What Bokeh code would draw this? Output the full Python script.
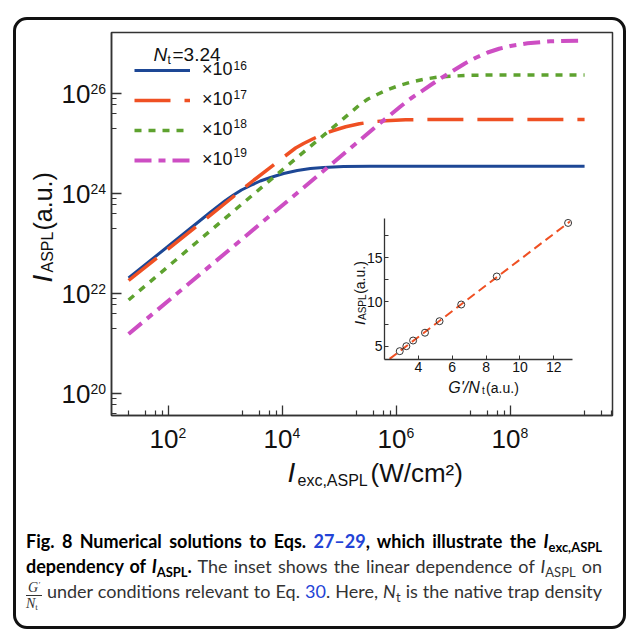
import math
import numpy as np
from bokeh.plotting import figure
from bokeh.models import (Range1d, FixedTicker, CustomJSTickFormatter, Legend, LegendItem,
                          LabelSet, Label, ColumnDataSource, Div)
from bokeh.core.properties import value
from bokeh.embed import file_html
from bokeh.resources import INLINE

FONT = "Liberation Sans"

# ---------------- data (log10 of I_exc,ASPL and I_ASPL) -------------
blue_log_x = [1.30, 2.00, 2.74, 3.00, 3.14, 3.28, 3.44, 3.61, 3.79, 4.02, 4.26, 4.49, 4.72, 5.07, 5.54, 9.30]
blue_log_y = [22.31, 22.95, 23.63, 23.86, 23.97, 24.07, 24.16, 24.25, 24.32, 24.40, 24.46, 24.50, 24.52, 24.54, 24.545, 24.545]

red_log_x = [1.30, 2.50, 3.50, 4.00, 4.23, 4.37, 4.53, 4.70, 4.88, 5.11, 5.35, 5.58, 5.81, 6.16, 6.60, 9.30]
red_log_y = [22.26, 23.35, 24.27, 24.71, 24.91, 25.00, 25.09, 25.18, 25.255, 25.335, 25.395, 25.435, 25.455, 25.475, 25.48, 25.48]

green_log_x = [1.30, 2.50, 3.84, 5.00, 5.36, 5.50, 5.66, 5.83, 6.01, 6.24, 6.48, 6.71, 6.94, 7.29, 7.80, 9.30]
green_log_y = [21.87, 23.03, 24.32, 25.43, 25.78, 25.89, 25.98, 26.07, 26.145, 26.225, 26.285, 26.325, 26.345, 26.365, 26.37, 26.37]

pink_log_x = [1.30, 3.00, 4.79, 5.60, 6.07, 6.25, 6.42, 6.60, 6.80, 7.00, 7.20, 7.40, 7.60, 7.80, 8.00, 8.30, 8.70, 9.30]
pink_log_y = [21.19, 22.81, 24.52, 25.30, 25.74, 25.90, 26.03, 26.17, 26.32, 26.46, 26.60, 26.72, 26.82, 26.895, 26.95, 27.005, 27.045, 27.06]

legend_exponents = [16, 17, 18, 19]

x_tick_exp = [2, 4, 6, 8]
y_tick_exp = [20, 22, 24, 26]
x_minor_ticks = [2e1, 4e1, 6e1, 8e1, 2e3, 4e3, 6e3, 8e3, 2e5, 4e5, 6e5, 8e5, 2e7, 4e7, 6e7, 8e7, 2e9, 4e9, 6e9]
y_minor_ticks = [4e19, 6e19, 8e19, 2e21, 4e21, 6e21, 8e21, 2e23, 4e23, 6e23, 8e23, 2e25, 4e25, 6e25, 8e25]

x_lo, x_hi = 10 ** 1.0, 10 ** 9.79
y_lo, y_hi = 10 ** 19.56, 10 ** 27.22

# inset data
inset_x = [2.90, 3.29, 3.69, 4.39, 5.25, 6.53, 8.63, 12.84]
inset_y = [4.44, 5.00, 5.64, 6.52, 7.82, 9.70, 12.86, 18.90]
fit_x = [2.30, 12.95]
fit_y = [3.57, 19.06]
inset_x_ticks = [4, 6, 8, 10, 12]
inset_y_ticks = [5, 10, 15]
inset_y_minor = [7.5, 12.5, 17.5]
ix_lo, ix_hi = 2.0, 13.1
iy_lo, iy_hi = 3.5, 19.4

BLUE_C = "#1d4795"
RED_C = "#ef5023"
GREEN_C = "#5ea22f"
PINK_C = "#cd4ec3"
AX_C = "#333333"
TXT_C = "#111111"


def lab(fig, x, y, text, size, dx, dy, align="left", italic=False, angle=0.0):
    fig.add_layout(Label(x=x, y=y, text=text, x_offset=dx, y_offset=dy,
                         text_font=FONT, text_font_size=f"{size}px",
                         text_font_style="italic" if italic else "normal",
                         text_align=align, text_baseline="alphabetic",
                         angle=angle, text_color=TXT_C))


def make_overlay(w, h, bl, br, bt, bb, xr, yr, xlog, ylog, left, top):
    """Transparent figure over a figure, whose frame is the whole canvas and whose
    scales continue those of the figure below, so that texts outside its frame can be drawn."""
    def ext(lo, hi, n_lo, n_hi, size, log):
        a, b = (math.log10(lo), math.log10(hi)) if log else (lo, hi)
        per = (b - a) / size
        a2, b2 = a - n_lo * per, b + n_hi * per
        return (10 ** a2, 10 ** b2) if log else (a2, b2)
    ex = ext(xr[0], xr[1], bl, br, w - bl - br, xlog)
    ey = ext(yr[0], yr[1], bb, bt, h - bt - bb, ylog)
    ov = figure(width=w, height=h, x_axis_type="log" if xlog else "linear",
                y_axis_type="log" if ylog else "linear",
                x_range=Range1d(*ex), y_range=Range1d(*ey),
                x_axis_location=None, y_axis_location=None,
                output_backend="svg", toolbar_location=None,
                min_border=0, min_border_left=0, min_border_right=0,
                min_border_top=0, min_border_bottom=0,
                background_fill_color=None, border_fill_color=None, outline_line_color=None)
    ov.grid.visible = False
    ov.styles = {"position": "absolute", "left": f"{left}px", "top": f"{top}px"}
    return ov


# ---------------- main figure -------------
MW, MH, MBL, MBR, MBT, MBB = 613, 520, 103, 9, 24, 113
p = figure(width=MW, height=MH, x_axis_type="log", y_axis_type="log",
           x_range=Range1d(x_lo, x_hi), y_range=Range1d(y_lo, y_hi),
           output_backend="svg", toolbar_location=None,
           min_border_left=MBL, min_border_right=MBR, min_border_top=MBT, min_border_bottom=MBB)
p.grid.visible = False
p.outline_line_color = AX_C
p.outline_line_width = 1.5
p.background_fill_color = "white"
p.border_fill_color = "white"

for ax in (p.xaxis[0], p.yaxis[0]):
    ax.axis_line_color = AX_C
    ax.axis_line_width = 1.5
    ax.major_tick_line_color = AX_C
    ax.minor_tick_line_color = AX_C
    ax.major_tick_line_width = 1.3
    ax.minor_tick_line_width = 1.2
    ax.major_tick_in = 10
    ax.major_tick_out = 0
    ax.minor_tick_in = 5
    ax.minor_tick_out = 0
    ax.formatter = CustomJSTickFormatter(code="return '';")

p.xaxis.ticker = FixedTicker(ticks=[10.0 ** e for e in x_tick_exp], minor_ticks=x_minor_ticks)
p.yaxis.ticker = FixedTicker(ticks=[10.0 ** e for e in y_tick_exp], minor_ticks=y_minor_ticks)


def pw(a):
    return np.power(10.0, np.array(a, dtype=float))


r_blue = p.line(pw(blue_log_x), pw(blue_log_y), line_color=BLUE_C, line_width=3)
r_red = p.line(pw(red_log_x), pw(red_log_y), line_color=RED_C, line_width=3.5, line_dash="36 14")
r_green = p.line(pw(green_log_x), pw(green_log_y), line_color=GREEN_C, line_width=3.5, line_dash="7 7")
r_pink = p.line(pw(pink_log_x), pw(pink_log_y), line_color=PINK_C, line_width=4, line_dash="17 7 7 7")

legend = Legend(items=[LegendItem(label=value("×10"), renderers=[r]) for r in (r_blue, r_red, r_green, r_pink)],
                location=(23, 245), glyph_width=56, glyph_height=20, label_height=20,
                label_standoff=12, spacing=9, padding=0, margin=0,
                border_line_color=None, background_fill_alpha=0,
                label_text_font=FONT, label_text_font_size="18px", label_text_color=TXT_C)
p.add_layout(legend)

leg_src = ColumnDataSource(dict(x=[x_lo] * 4, y=[y_hi] * 4,
                                text=[str(e) for e in legend_exponents],
                                dy=[-(41 + 29 * i) + 4 for i in range(4)]))
p.add_layout(LabelSet(x="x", y="y", text="text", source=leg_src, x_offset=122, y_offset="dy",
                      text_font=value(FONT), text_font_size="12px", text_align="left",
                      text_baseline="alphabetic", text_color=TXT_C))

# legend title  N_t=3.24
lab(p, x_lo, y_hi, "N", 19, 42, -22, italic=True)
lab(p, x_lo, y_hi, "t", 12, 56, -27)
lab(p, x_lo, y_hi, "=3.24", 19, 61, -22)

p.styles = {"position": "absolute", "left": "8px", "top": "8px"}

# overlay for texts around the main frame
ovm = make_overlay(MW, MH, MBL, MBR, MBT, MBB, (x_lo, x_hi), (y_lo, y_hi), True, True, 8, 8)

xt_src = ColumnDataSource(dict(x=[10.0 ** e for e in x_tick_exp], y=[y_lo] * len(x_tick_exp),
                               base=["10"] * len(x_tick_exp), exp=[str(e) for e in x_tick_exp]))
ovm.add_layout(LabelSet(x="x", y="y", text="base", source=xt_src, x_offset=10, y_offset=-32,
                        text_font=value(FONT), text_font_size="26px", text_align="right",
                        text_baseline="alphabetic", text_color=TXT_C))
ovm.add_layout(LabelSet(x="x", y="y", text="exp", source=xt_src, x_offset=10, y_offset=-22,
                        text_font=value(FONT), text_font_size="14px", text_align="left",
                        text_baseline="alphabetic", text_color=TXT_C))

yt_src = ColumnDataSource(dict(x=[x_lo] * len(y_tick_exp), y=[10.0 ** e for e in y_tick_exp],
                               base=["10"] * len(y_tick_exp), exp=[str(e) for e in y_tick_exp]))
ovm.add_layout(LabelSet(x="x", y="y", text="base", source=yt_src, x_offset=-21, y_offset=-9.3,
                        text_font=value(FONT), text_font_size="26px", text_align="right",
                        text_baseline="alphabetic", text_color=TXT_C))
ovm.add_layout(LabelSet(x="x", y="y", text="exp", source=yt_src, x_offset=-21, y_offset=0,
                        text_font=value(FONT), text_font_size="14px", text_align="left",
                        text_baseline="alphabetic", text_color=TXT_C))

# axis titles
lab(ovm, 1e4, y_lo, "I", 28, 5, -57, italic=True)
lab(ovm, 1e4, y_lo, "exc,ASPL", 16, 15, -65)
lab(ovm, 1e4, y_lo, "(W/cm²)", 26, 88, -57)

lab(ovm, x_lo, y_lo, "I", 28, -69, 133, italic=True, angle=np.pi / 2)
lab(ovm, x_lo, y_lo, "ASPL", 16, -64, 143, angle=np.pi / 2)
lab(ovm, x_lo, y_lo, " (a.u.)", 25, -69, 185, angle=np.pi / 2)

# ---------------- inset -------------
IW, IH, IBL, IBR, IBT, IBB = 228, 185, 34, 6, 6, 38
ins = figure(width=IW, height=IH, x_range=Range1d(ix_lo, ix_hi), y_range=Range1d(iy_lo, iy_hi),
             output_backend="svg", toolbar_location=None,
             min_border_left=IBL, min_border_right=IBR, min_border_top=IBT, min_border_bottom=IBB,
             background_fill_color=None, border_fill_color=None, outline_line_color=None)
ins.grid.visible = False
ins.line(fit_x, fit_y, line_color=RED_C, line_width=2, line_dash="9 5")
ins.scatter(inset_x, inset_y, marker="circle", size=7, fill_color=None, line_color="#333333", line_width=1)
for ax in (ins.xaxis[0], ins.yaxis[0]):
    ax.axis_line_color = AX_C
    ax.axis_line_width = 1.3
    ax.major_tick_line_color = AX_C
    ax.minor_tick_line_color = AX_C
    ax.major_tick_in = 4
    ax.major_tick_out = 0
    ax.minor_tick_in = 4
    ax.minor_tick_out = 0
    ax.major_label_standoff = 2
    ax.major_label_text_font = FONT
    ax.major_label_text_font_size = "14px"
    ax.major_label_text_color = TXT_C
ins.xaxis.ticker = FixedTicker(ticks=inset_x_ticks, minor_ticks=[])
ins.yaxis.ticker = FixedTicker(ticks=inset_y_ticks, minor_ticks=inset_y_minor)
ins.styles = {"position": "absolute", "left": "350px", "top": "212px"}

ovi = make_overlay(IW, IH, IBL, IBR, IBT, IBB, (ix_lo, ix_hi), (iy_lo, iy_hi), False, False, 350, 212)
# y title, anchored next to the y ticks it runs along
lab(ovi, ix_lo, 7.5, "I", 15, -25, -1, italic=True, angle=np.pi / 2)
lab(ovi, ix_lo, 7.5, "ASPL", 10, -22, 4, angle=np.pi / 2)
lab(ovi, ix_lo, 10.0, " (a.u.)", 14, -25, 8, angle=np.pi / 2)
# x title, anchored below the x ticks it sits under
lab(ovi, 6.0, iy_lo, "G'/N", 16, -4, -28, italic=True)
lab(ovi, 8.0, iy_lo, "t", 10, -4, -31)
lab(ovi, 8.0, iy_lo, " (a.u.)", 14, 0, -28)

# ---------------- caption -------------
LINK = "#2343d6"
SUB = 'style="font-size:0.72em;vertical-align:-0.3em;line-height:0;"'
frac = ('<span style="display:inline-block;vertical-align:-10px;text-align:center;'
        "font-family:'Liberation Serif';font-style:italic;font-size:14px;line-height:13px;margin-right:5px;\">"
        '<span style="display:block;border-bottom:1px solid #333;padding:0 2px 1px 2px;">G<span style="font-size:8px;vertical-align:4px;">′</span></span>'
        '<span style="display:block;padding-top:1px;">N<span style="font-style:normal;font-size:9px;vertical-align:-2px;">t</span></span></span>')
line_css = "white-space:nowrap;text-align:justify;text-align-last:justify;height:25px;"
html = (
    '<div style="font-family:Lato;font-size:18px;line-height:25px;color:#333;'
    'width:589px;padding-left:13px;padding-top:2px;">'
    f'<div style="{line_css}"><b style="color:#000">Fig. 8 Numerical solutions to Eqs. '
    f'<span style="color:{LINK}">27–29</span>, which illustrate the <i>I</i><sub {SUB}>exc,ASPL</sub></b></div>'
    f'<div style="{line_css}"><b style="color:#000">dependency of <i>I</i><sub {SUB}>ASPL</sub>.</b> '
    f'The inset shows the linear dependence of <i>I</i><sub {SUB}>ASPL</sub> on</div>'
    f'<div style="{line_css}">{frac}under conditions relevant to Eq. <span style="color:{LINK}">30</span>. '
    f'Here, <i>N</i><sub {SUB}>t</sub> is the native trap density</div>'
    '</div>'
)
caption = Div(text=html, width=613, height=96,
              styles={"position": "absolute", "left": "8px", "top": "522px"})

frame_div = Div(text="", width=613, height=612,
                styles={"position": "absolute", "left": "8px", "top": "12px",
                        "border": "3px solid #111", "border-radius": "14px",
                        "box-sizing": "border-box", "pointer-events": "none"})

open("out.html", "w").write(file_html([p, ovm, caption, ins, ovi, frame_div], INLINE, title="plot"))
